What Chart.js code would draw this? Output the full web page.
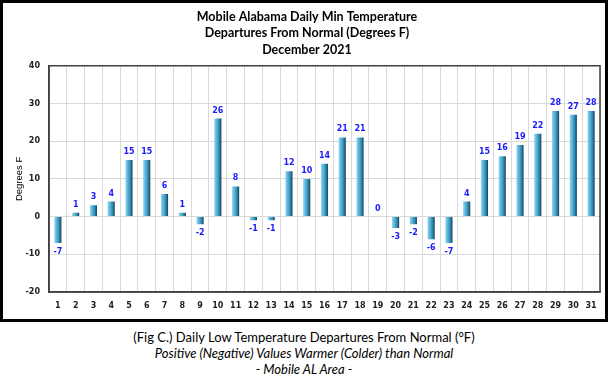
<!DOCTYPE html>
<html>
<head>
<meta charset="utf-8">
<script src="https://cdn.jsdelivr.net/npm/chart.js@4.4.0/dist/chart.umd.min.js"></script>
<style>
  body { margin:0; background:#fff; width:608px; height:380px; overflow:hidden; }
  #frame { position:absolute; left:0; top:0; width:608px; height:322px; box-sizing:border-box; border:3px solid #000; }
  #wrap { position:absolute; left:0; top:0; width:608px; height:322px; }
  #caption { position:absolute; left:0; top:330px; width:608px; text-align:center; font-family:Lato, "Open Sans", sans-serif; font-size:13px; line-height:15.8px; color:#000; }
  #caption i { font-style:italic; }
</style>
</head>
<body>
<div id="frame"></div>
<div id="wrap"><canvas id="chart" width="608" height="322"></canvas></div>
<div id="caption">
  (Fig C.) Daily Low Temperature Departures From Normal (°F)<br>
  <i>Positive (Negative) Values Warmer (Colder) than Normal</i><br>
  <i>- Mobile AL Area -</i>
</div>
<script>
// jours du mois
const days = ['1','2','3','4','5','6','7','8','9','10','11','12','13','14','15','16',
              '17','18','19','20','21','22','23','24','25','26','27','28','29','30','31'];
// écart à la normale (°F)
const departures = [-7,1,3,4,15,15,6,1,-2,26,8,-1,-1,12,10,14,21,21,0,-3,-2,-6,-7,4,15,16,19,22,28,27,28];
const titleLines = ['Mobile Alabama Daily Min Temperature','Departures From Normal (Degrees F)','December 2021'];
const yTicks = [-20,-10,0,10,20,30,40];

const tickFont = { family:'"DejaVu Sans"', size:8, weight:'bold' };

// dégradé horizontal sur chaque barre
function barGradient(ctx) {
  const chart = ctx.chart;
  const xs = chart.scales.x;
  if (!chart.chartArea || !xs) return '#3a9cc4';
  const x = xs.getPixelForValue(ctx.dataIndex);
  const w = (xs.width / days.length) * 0.4;
  const g = chart.ctx.createLinearGradient(x - w/2, 0, x + w/2, 0);
  g.addColorStop(0, '#8fd6ef');
  g.addColorStop(0.45, '#4aa8cf');
  g.addColorStop(0.7, '#2f86ad');
  g.addColorStop(1, '#173f52');
  return g;
}

// étiquettes des valeurs
const valueLabels = {
  id: 'valueLabels',
  afterDatasetsDraw(chart) {
    const c = chart.ctx;
    const meta = chart.getDatasetMeta(0);
    c.save();
    c.font = 'bold 8px "DejaVu Sans"';
    c.fillStyle = '#1a1aff';
    c.textAlign = 'center';
    c.textBaseline = 'middle';
    meta.data.forEach((bar, i) => {
      const v = departures[i];
      const y = v >= 0 ? bar.y - 8 : bar.y + 9;
      c.fillText(String(v), bar.x, y);
    });
    c.restore();
  }
};

// cadre autour de la zone de tracé
const areaBorder = {
  id: 'areaBorder',
  afterDraw(chart) {
    const a = chart.chartArea, c = chart.ctx;
    c.save();
    c.strokeStyle = '#404040';
    c.lineWidth = 1.5;
    c.strokeRect(a.left, a.top, a.right - a.left, a.bottom - a.top);
    c.restore();
  }
};

new Chart(document.getElementById('chart'), {
  type: 'bar',
  data: {
    labels: days,
    datasets: [{
      data: departures,
      backgroundColor: barGradient,
      borderWidth: 0,
      barPercentage: 0.4,
      categoryPercentage: 1
    }]
  },
  options: {
    responsive: false,
    animation: false,
    layout: { padding: { left: 14, right: 8, top: 0, bottom: 4 } },
    plugins: {
      legend: { display: false },
      tooltip: { enabled: false },
      title: {
        display: true,
        text: titleLines,
        color: '#000',
        font: { family: 'Lato', size: 12.5, weight: 'bold', lineHeight: 1.3 },
        padding: { top: 9, bottom: 8 }
      }
    },
    scales: {
      x: {
        grid: { color: '#d9d9d9', lineWidth: 1, drawTicks: false },
        border: { color: '#404040', width: 1.5 },
        ticks: { color: '#222', font: tickFont, padding: 9, maxRotation: 0, autoSkip: false },
        afterFit(s) { s.height = 26; }
      },
      y: {
        min: -20, max: 40,
        afterBuildTicks(s) { s.ticks = yTicks.map(v => ({ value: v })); },
        grid: { color: '#d9d9d9', lineWidth: 1, drawTicks: false },
        border: { color: '#404040', width: 1.5 },
        ticks: { color: '#222', font: tickFont, padding: 9 },
        title: { display: true, text: 'Degrees F', color: '#000', font: { family: '"Liberation Sans"', size: 9.5 }, padding: 0 },
        afterFit(s) { s.width = 35; }
      }
    }
  },
  plugins: [valueLabels, areaBorder]
});
</script>
</body>
</html>
